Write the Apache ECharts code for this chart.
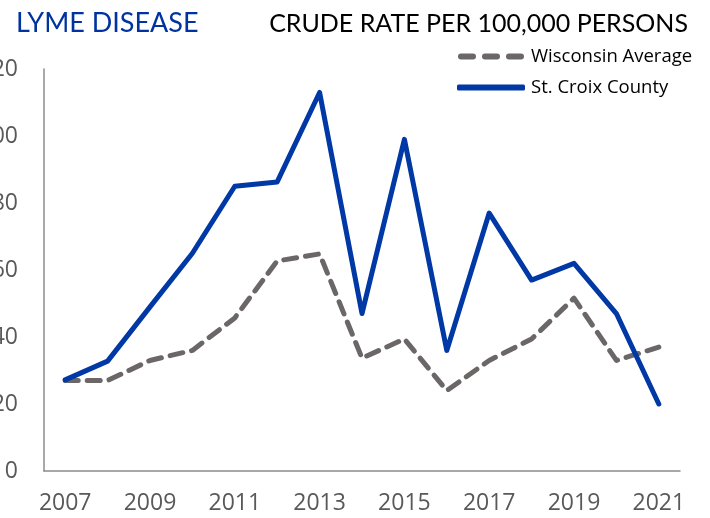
<!DOCTYPE html>
<html>
<head>
<meta charset="utf-8">
<script src="https://cdn.jsdelivr.net/npm/echarts@6/dist/echarts.min.js"></script>
<style>
  html, body { margin: 0; padding: 0; background: #fff; }
  #chart { width: 710px; height: 518px; }
</style>
</head>
<body>
<div id="chart"></div>
<script>
// 年份
var years = ["2007","2008","2009","2010","2011","2012","2013","2014","2015","2016","2017","2018","2019","2020","2021"];
// 威斯康星平均
var wisconsin = [27, 27, 33, 36, 45.7, 62.7, 64.8, 33.7, 39.4, 24, 33, 39.4, 51.6, 33, 37];
// St. Croix 县
var stCroix = [27.2, 32.8, 49, 65, 85, 86.3, 113, 47, 99, 36, 77, 57, 62, 47, 20];
var yTicks = [0, 20, 40, 60, 80, 100, 120];

var chart = echarts.init(document.getElementById("chart"));
chart.setOption({
  animation: false,
  backgroundColor: "#fff",
  title: [
    {
      text: "LYME DISEASE",
      left: 11, top: 5,
      textStyle: { color: "#0033a0", fontSize: 27, fontWeight: "normal", fontFamily: "Lato" }
    },
    {
      text: "CRUDE RATE PER 100,000 PERSONS",
      right: 17, top: 6,
      textStyle: { color: "#000", fontSize: 25, fontWeight: "normal", fontFamily: "Lato" }
    }
  ],
  legend: {
    orient: "vertical",
    left: 452, top: 42,
    itemWidth: 68, itemHeight: 6, itemGap: 12,
    textStyle: { fontSize: 18.5, color: "#000", fontFamily: "Open Sans", padding: [0, 0, 0, 1] },
    data: [
      { name: "Wisconsin Average", icon: "path://M3,0h12a3,3 0 0 1 0,6h-12a3,3 0 0 1 0,-6z M27,0h12a3,3 0 0 1 0,6h-12a3,3 0 0 1 0,-6z M51,0h12a3,3 0 0 1 0,6h-12a3,3 0 0 1 0,-6z" },
      { name: "St. Croix County", icon: "roundRect" }
    ]
  },
  grid: { left: 44, right: 30, top: 69, bottom: 47, containLabel: false, outerBoundsMode: "none" },
  xAxis: {
    type: "category",
    data: years,
    boundaryGap: true,
    axisLine: { lineStyle: { color: "#8c8c8c", width: 1.5 } },
    axisTick: { show: false },
    axisLabel: {
      interval: 1, margin: 21,
      fontSize: 23, color: "#595959", fontFamily: "Open Sans"
    }
  },
  yAxis: {
    type: "value",
    min: 0, max: 120, interval: 20,
    splitLine: { show: false },
    axisLine: { show: true, lineStyle: { color: "#8c8c8c", width: 1.5 } },
    axisTick: { show: false },
    axisLabel: {
      margin: 26, fontSize: 23, color: "#595959", fontFamily: "Open Sans",
      formatter: function (v) { return yTicks.indexOf(v) >= 0 ? String(v) : ""; }
    }
  },
  series: [
    {
      name: "Wisconsin Average",
      type: "line",
      data: wisconsin,
      symbol: "none",
      z: 2,
      itemStyle: { color: "#6b6767" },
      lineStyle: { color: "#6b6767", width: 5, type: [13, 9], cap: "round", join: "round" }
    },
    {
      name: "St. Croix County",
      type: "line",
      data: stCroix,
      symbol: "none",
      z: 3,
      itemStyle: { color: "#0039a6" },
      lineStyle: { color: "#0039a6", width: 5, cap: "round", join: "round" }
    }
  ]
});
</script>
</body>
</html>
